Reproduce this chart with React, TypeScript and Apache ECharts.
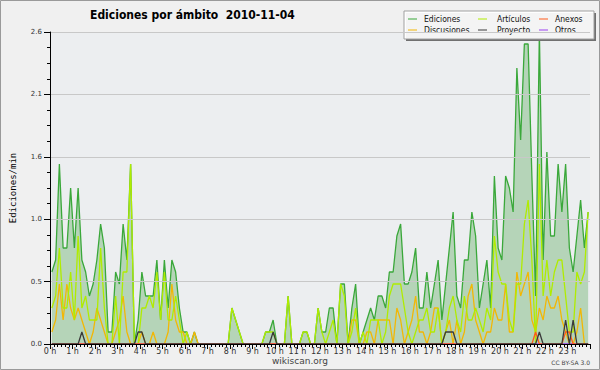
import React, { useEffect, useRef } from "react";
import * as echarts from "echarts";

// 10-minute slots (144 per day); each value is edits/min in that slot
const SLOTS_PER_HOUR = 6;

const ediciones = [
  0.6, 0.7, 1.5, 0.8, 0.8, 1.3,
  0.8, 1.3, 0.7, 0.6, 0.4, 0.5,
  0.7, 1.0, 0.8, 0.1, 0.1, 0.6,
  0.5, 1.0, 0.7, 1.5, 0.0, 0.2,
  0.6, 0.4, 0.4, 0.4, 0.7, 0.2,
  0.7, 0.3, 0.7, 0.6, 0.3, 0.1,
  0.1, 0.0, 0.1, 0.0, 0.0, 0.0,
  0.0, 0.0, 0.0, 0.0, 0.0, 0.0,
  0.3, 0.2, 0.1, 0.0, 0.0, 0.0,
  0.0, 0.0, 0.0, 0.1, 0.1, 0.2,
  0.0, 0.0, 0.0, 0.4, 0.0, 0.0,
  0.0, 0.1, 0.1, 0.0, 0.0, 0.3,
  0.1, 0.1, 0.3, 0.3, 0.0, 0.5,
  0.5, 0.0, 0.3, 0.5, 0.0, 0.1,
  0.2, 0.3, 0.2, 0.4, 0.4, 0.3,
  0.6, 0.6, 0.9, 1.0, 0.5, 0.5,
  0.6, 0.8, 0.3, 0.3, 0.6, 0.3,
  0.5, 0.7, 0.2, 0.5, 0.8, 1.1,
  0.4, 0.3, 0.7, 0.7, 1.1, 0.9,
  0.3, 0.5, 0.7, 0.3, 1.4, 0.8,
  0.7, 1.4, 1.3, 1.1, 2.3, 1.7,
  2.5, 2.5, 1.4, 0.4, 2.6, 0.7,
  1.6, 0.9, 0.9, 1.5, 1.1, 1.5,
  0.8, 0.6, 0.9, 1.2, 0.8, 1.1,
];

const articulos = [
  0.3, 0.4, 0.8, 0.3, 0.3, 0.6,
  0.2, 0.9, 0.3, 0.4, 0.2, 0.2,
  0.2, 0.8, 0.3, 0.0, 0.0, 0.4,
  0.0, 0.6, 0.6, 1.5, 0.0, 0.0,
  0.3, 0.3, 0.4, 0.3, 0.6, 0.2,
  0.6, 0.2, 0.2, 0.4, 0.2, 0.0,
  0.1, 0.0, 0.0, 0.0, 0.0, 0.0,
  0.0, 0.0, 0.0, 0.0, 0.0, 0.0,
  0.3, 0.2, 0.1, 0.0, 0.0, 0.0,
  0.0, 0.0, 0.0, 0.1, 0.1, 0.1,
  0.0, 0.0, 0.0, 0.4, 0.0, 0.0,
  0.0, 0.1, 0.1, 0.0, 0.0, 0.3,
  0.1, 0.0, 0.1, 0.2, 0.0, 0.5,
  0.4, 0.0, 0.1, 0.3, 0.0, 0.1,
  0.0, 0.2, 0.2, 0.2, 0.0, 0.1,
  0.4, 0.5, 0.5, 0.5, 0.3, 0.1,
  0.0, 0.1, 0.2, 0.2, 0.3, 0.1,
  0.1, 0.3, 0.0, 0.1, 0.3, 0.4,
  0.2, 0.1, 0.4, 0.2, 0.2, 0.3,
  0.2, 0.1, 0.3, 0.2, 0.9, 0.6,
  0.5, 0.5, 0.2, 0.1, 0.5, 0.5,
  1.0, 1.2, 0.7, 0.0, 1.5, 0.4,
  0.7, 0.4, 0.6, 0.7, 0.7, 0.4,
  0.1, 0.1, 0.6, 0.5, 0.6, 1.1,
];

const discusiones = [
  0.1, 0.2, 0.5, 0.2, 0.5, 0.3,
  0.2, 0.3, 0.2, 0.1, 0.0, 0.1,
  0.3, 0.2, 0.1, 0.0, 0.0, 0.1,
  0.2, 0.4, 0.1, 0.0, 0.0, 0.0,
  0.1, 0.0, 0.0, 0.1, 0.0, 0.0,
  0.0, 0.1, 0.5, 0.2, 0.1, 0.1,
  0.0, 0.0, 0.1, 0.0, 0.0, 0.0,
  0.0, 0.0, 0.0, 0.0, 0.0, 0.0,
  0.0, 0.0, 0.0, 0.0, 0.0, 0.0,
  0.0, 0.0, 0.0, 0.0, 0.0, 0.0,
  0.0, 0.0, 0.0, 0.0, 0.0, 0.0,
  0.0, 0.0, 0.0, 0.0, 0.0, 0.0,
  0.0, 0.0, 0.0, 0.0, 0.0, 0.0,
  0.0, 0.0, 0.2, 0.2, 0.0, 0.0,
  0.1, 0.1, 0.0, 0.2, 0.2, 0.2,
  0.2, 0.0, 0.3, 0.2, 0.0, 0.1,
  0.2, 0.4, 0.1, 0.1, 0.0, 0.1,
  0.3, 0.3, 0.0, 0.1, 0.2, 0.0,
  0.2, 0.0, 0.1, 0.4, 0.5, 0.2,
  0.1, 0.0, 0.1, 0.1, 0.3, 0.2,
  0.2, 0.5, 0.1, 0.1, 0.6, 0.4,
  0.5, 0.6, 0.2, 0.1, 0.3, 0.2,
  0.4, 0.3, 0.3, 0.4, 0.2, 0.1,
  0.0, 0.0, 0.1, 0.3, 0.0, 0.0,
];

const proyecto = [
  0, 0, 0, 0, 0, 0,
  0, 0, 0.1, 0, 0, 0,
  0, 0, 0, 0, 0, 0,
  0, 0, 0, 0, 0, 0.1,
  0.1, 0, 0, 0, 0, 0,
  0, 0, 0, 0, 0, 0,
  0, 0, 0, 0, 0, 0,
  0, 0, 0, 0, 0, 0,
  0, 0, 0, 0, 0, 0,
  0, 0, 0, 0, 0, 0.1,
  0, 0, 0, 0, 0, 0,
  0, 0, 0, 0, 0, 0,
  0, 0, 0, 0, 0, 0,
  0, 0, 0, 0, 0, 0,
  0, 0, 0, 0, 0, 0,
  0, 0, 0, 0, 0, 0,
  0, 0, 0, 0, 0, 0,
  0, 0, 0, 0.1, 0.1, 0.1,
  0, 0, 0, 0, 0, 0,
  0, 0, 0, 0, 0, 0,
  0, 0, 0, 0, 0, 0,
  0, 0, 0, 0, 0.1, 0,
  0, 0, 0, 0, 0, 0.2,
  0, 0.2, 0, 0, 0, 0,
];

const anexos = [
  0, 0, 0, 0, 0, 0,
  0, 0, 0, 0, 0, 0,
  0, 0, 0, 0, 0, 0,
  0, 0, 0, 0, 0, 0,
  0, 0, 0, 0, 0, 0,
  0, 0, 0, 0, 0, 0,
  0, 0, 0, 0, 0, 0,
  0, 0, 0, 0, 0, 0,
  0, 0, 0, 0, 0, 0,
  0, 0, 0, 0, 0, 0,
  0, 0, 0, 0, 0, 0,
  0, 0, 0, 0, 0, 0,
  0, 0, 0, 0, 0, 0,
  0, 0, 0, 0, 0, 0,
  0, 0, 0, 0, 0, 0,
  0, 0, 0, 0, 0, 0,
  0, 0, 0, 0, 0, 0,
  0, 0, 0, 0, 0, 0,
  0, 0, 0, 0, 0, 0,
  0, 0, 0, 0, 0, 0,
  0, 0, 0, 0, 0, 0,
  0, 0, 0, 0.1, 0, 0,
  0, 0, 0, 0, 0, 0.1,
  0.1, 0, 0, 0, 0, 0,
];

const otros = [
  0, 0, 0, 0, 0, 0,  0, 0, 0, 0, 0, 0,  0, 0, 0, 0, 0, 0,  0, 0, 0, 0, 0, 0,
  0, 0, 0, 0, 0, 0,  0, 0, 0, 0, 0, 0,  0, 0, 0, 0, 0, 0,  0, 0, 0, 0, 0, 0,
  0, 0, 0, 0, 0, 0,  0, 0, 0, 0, 0, 0,  0, 0, 0, 0, 0, 0,  0, 0, 0, 0, 0, 0,
  0, 0, 0, 0, 0, 0,  0, 0, 0, 0, 0, 0,  0, 0, 0, 0, 0, 0,  0, 0, 0, 0, 0, 0,
  0, 0, 0, 0, 0, 0,  0, 0, 0, 0, 0, 0,  0, 0, 0, 0, 0, 0,  0, 0, 0, 0, 0, 0,
  0, 0, 0, 0, 0, 0,  0, 0, 0, 0, 0, 0,  0, 0, 0, 0, 0, 0,  0, 0, 0, 0, 0, 0,
];

const TITLE = "Ediciones por ámbito  2010-11-04";
const Y_NAME = "Ediciones/min";
const legendCols = [
  ["Ediciones", "Discusiones"],
  ["Artículos", "Proyecto"],
  ["Anexos", "Otros"],
];
const colors: Record<string, string> = {
  Ediciones: "#3aa83a",
  Artículos: "#b0ec00",
  Discusiones: "#f2b705",
  Proyecto: "#3a3a3a",
  Anexos: "#ff5a1a",
  Otros: "#9a40f0",
};

const toPairs = (arr: number[]) =>
  arr.map((v, i) => [(i + 0.5) / SLOTS_PER_HOUR, v]);

export default function App() {
  const ref = useRef<HTMLDivElement>(null);
  useEffect(() => {
    if (!ref.current) return;
    const chart = echarts.init(ref.current, undefined, { renderer: "svg" });
    const lineSeries = (name: string, data: number[], z: number) => ({
      name,
      type: "line",
      data: toPairs(data),
      showSymbol: false,
      symbol: "none",
      z,
      lineStyle: { color: colors[name], width: 1.3 },
      itemStyle: { color: colors[name] },
    });
    const legendCommon = {
      orient: "vertical",
      top: 14,
      icon: "rect",
      itemWidth: 9,
      itemHeight: 1,
      itemGap: 1,
      padding: 0,
      selectedMode: false,
      z: 6,
    };
    const legendLefts = [408, 478, 539];
    const textPads = [2, 5, 2];
    chart.setOption({
      animation: false,
      backgroundColor: "#f0f0f0",
      title: {
        text: TITLE,
        left: 85,
        top: 4,
        textStyle: {
          fontSize: 12,
          fontWeight: "bold",
          fontFamily: "'DejaVu Sans Condensed', 'DejaVu Sans', sans-serif",
          color: "#000",
        },
      },
      legend: legendCols.map((col, k) => ({
        ...legendCommon,
        left: legendLefts[k],
        data: col,
        textStyle: {
          fontSize: 8.5,
          lineHeight: 10,
          fontFamily: "'DejaVu Sans Condensed', 'DejaVu Sans', sans-serif",
          color: "#111",
          padding: [0, 0, 0, textPads[k]],
        },
      })),
      grid: {
        left: 46,
        right: 10,
        top: 32,
        bottom: 26,
        show: true,
        backgroundColor: "#eceef0",
        borderWidth: 0,
      },
      xAxis: {
        type: "value",
        min: 0,
        max: 24,
        interval: 1,
        z: 10,
        axisLine: { lineStyle: { color: "#000", width: 1 } },
        axisTick: { show: true, length: 5, lineStyle: { color: "#000" } },
        minorTick: { show: true, splitNumber: 6, length: 3, lineStyle: { color: "#000" } },
        splitLine: { show: false },
        axisLabel: {
          showMaxLabel: false,
          margin: 3,
          fontSize: 8,
          fontFamily: "'DejaVu Sans', sans-serif",
          color: "#333",
          formatter: (v: number) => `${v} h`,
        },
      },
      yAxis: {
        type: "value",
        min: 0,
        max: 2.6,
        interval: 0.52,
        z: 10,
        name: Y_NAME,
        nameLocation: "middle",
        nameGap: 33,
        nameTextStyle: {
          fontFamily: "'DejaVu Sans Mono', monospace",
          fontSize: 9,
          color: "#000",
        },
        axisLine: { show: true, lineStyle: { color: "#000", width: 1 } },
        axisTick: { show: true, length: 6, lineStyle: { color: "#000" } },
        minorTick: { show: true, splitNumber: 4, length: 3, lineStyle: { color: "#000" } },
        splitLine: { show: true, lineStyle: { color: "#c8c8c8", width: 1 } },
        axisLabel: {
          margin: 8,
          fontSize: 7,
          fontFamily: "'DejaVu Sans', sans-serif",
          color: "#333",
          formatter: (v: number) => v.toFixed(1),
        },
      },
      graphic: [
        {
          type: "rect",
          z: 3,
          shape: { x: 406, y: 13, width: 190, height: 28 },
          style: { fill: "#707070" },
        },
        {
          type: "rect",
          z: 3,
          shape: { x: 404, y: 11, width: 190, height: 28 },
          style: { fill: "rgba(255,255,255,0.92)", stroke: "#a0a0a0", lineWidth: 1 },
        },
        {
          type: "text",
          z: 3,
          x: 300,
          y: 361,
          style: {
            text: "wikiscan.org",
            fontSize: 9,
            fontFamily: "'DejaVu Sans', sans-serif",
            fill: "#444",
            textAlign: "center",
            textVerticalAlign: "middle",
          },
        },
        {
          type: "text",
          z: 3,
          x: 590,
          y: 362,
          style: {
            text: "CC BY-SA 3.0",
            fontSize: 6,
            fontFamily: "'DejaVu Sans', sans-serif",
            fill: "#444",
            textAlign: "right",
            textVerticalAlign: "middle",
          },
        },
        {
          type: "rect",
          z: 20,
          shape: { x: 0.5, y: 0.5, width: 599, height: 369 },
          style: { fill: "none", stroke: "#9a9a9a", lineWidth: 1 },
        },
      ],
      series: [
        {
          ...lineSeries("Ediciones", ediciones, 2),
          areaStyle: { color: "rgba(50,150,50,0.42)" },
        },
        lineSeries("Discusiones", discusiones, 3),
        lineSeries("Artículos", articulos, 3),
        lineSeries("Otros", otros, 3),
        lineSeries("Anexos", anexos, 3),
        lineSeries("Proyecto", proyecto, 3),
      ],
    });
    return () => chart.dispose();
  }, []);
  return (
    <div
      ref={ref}
      style={{ position: "fixed", left: 0, top: 0, width: 600, height: 370 }}
    />
  );
}
